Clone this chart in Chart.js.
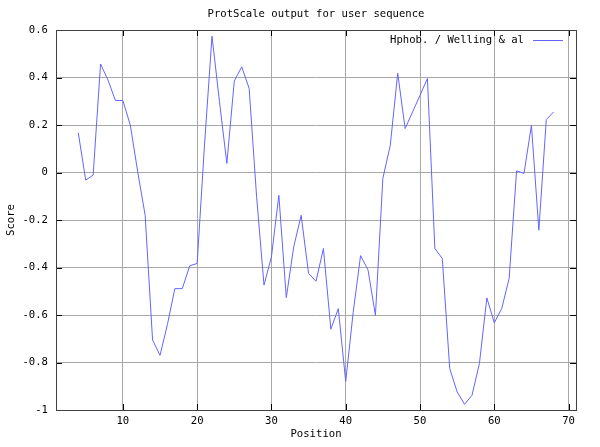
<!DOCTYPE html>
<html>
<head>
<meta charset="utf-8">
<script src="https://cdn.jsdelivr.net/npm/chart.js@4"></script>
<style>
body{margin:0;background:#fff;}
canvas{display:block;}
</style>
</head>
<body>
<canvas id="chart" width="600" height="447"></canvas>
<script>
// data
const positions = [4,5,6,7,8,9,10,11,12,13,14,15,16,17,18,19,20,21,22,23,24,25,26,27,28,29,30,31,32,33,34,35,36,
    37,38,39,40,41,42,43,44,45,46,47,48,49,50,51,52,53,54,55,56,57,58,59,60,61,62,63,64,65,66,67,68];
const scores = [0.167,-0.032,-0.011,0.457,0.389,0.303,0.303,0.200,0.003,-0.180,-0.705,-0.770,-0.640,-0.489,-0.489,-0.393,-0.383,
    0.120,0.574,0.300,0.038,0.385,0.445,0.354,-0.100,-0.474,-0.355,-0.096,-0.527,-0.313,-0.180,-0.425,-0.458,
    -0.320,-0.660,-0.573,-0.880,-0.590,-0.350,-0.410,-0.601,-0.025,0.115,0.418,0.185,0.255,0.325,0.396,-0.320,
    -0.362,-0.825,-0.924,-0.976,-0.938,-0.804,-0.528,-0.633,-0.573,-0.446,0.007,-0.004,0.199,-0.243,0.223,0.255];
const xTicks = [10,20,30,40,50,60,70];
const yTicks = [-1,-0.8,-0.6,-0.4,-0.2,0,0.2,0.4,0.6];
const seriesLabel = 'Hphob. / Welling & al';
const chartTitle = 'ProtScale output for user sequence';

const FONT = {family:'"DejaVu Sans Mono", monospace', size:10.6};
const lineColor = '#6464ff';

// gnuplot style: box border, inward ticks on all sides, title over plot, key inside top right
const gnuplotFrame = {
    id:'gnuplotFrame',
    afterDatasetsDraw(chart){
        const {ctx, chartArea:a, scales} = chart;
        ctx.save();
        ctx.strokeStyle = '#000';
        ctx.lineWidth = 1;
        ctx.beginPath();
        xTicks.forEach(v=>{
            const px = Math.round(scales.x.getPixelForValue(v))+0.5;
            ctx.moveTo(px,a.bottom); ctx.lineTo(px,a.bottom-6);
            ctx.moveTo(px,a.top); ctx.lineTo(px,a.top+6);
        });
        yTicks.forEach(v=>{
            const py = Math.round(scales.y.getPixelForValue(v))+0.5;
            ctx.moveTo(a.left,py); ctx.lineTo(a.left+6,py);
            ctx.moveTo(a.right,py); ctx.lineTo(a.right-6,py);
        });
        ctx.stroke();
        ctx.strokeStyle = '#404040';
        ctx.strokeRect(Math.round(a.left)+0.5, Math.round(a.top)+0.5, Math.round(a.right-a.left), Math.round(a.bottom-a.top));

        ctx.fillStyle = '#000';
        ctx.font = `${FONT.size}px ${FONT.family}`;
        ctx.textBaseline = 'middle';
        ctx.textAlign = 'center';
        ctx.fillText(chartTitle, (a.left+a.right)/2, 14);

        // key
        const ky = a.top+10;
        ctx.textAlign = 'right';
        ctx.fillText(chart.data.datasets[0].label, a.right-52, ky);
        ctx.strokeStyle = lineColor;
        ctx.beginPath();
        ctx.moveTo(a.right-43, ky+0.5); ctx.lineTo(a.right-13, ky+0.5);
        ctx.stroke();
        ctx.restore();
    }
};

new Chart(document.getElementById('chart'), {
    type:'line',
    data:{
        datasets:[{
            label:seriesLabel,
            data:positions.map((p,i)=>({x:p, y:scores[i]})),
            borderColor:lineColor,
            borderWidth:1,
            pointRadius:0,
            tension:0,
            fill:false
        }]
    },
    options:{
        responsive:false,
        devicePixelRatio:1,
        animation:false,
        layout:{padding:{left:0, right:24, top:30, bottom:0}},
        plugins:{
            legend:{display:false},
            tooltip:{enabled:false},
            title:{display:false}
        },
        scales:{
            x:{
                type:'linear', min:1, max:71,
                afterBuildTicks:s=>{ s.ticks = xTicks.map(v=>({value:v})); },
                afterFit:s=>{ s.height = 37; },
                ticks:{color:'#000', font:FONT, padding:5, maxRotation:0, autoSkip:false},
                grid:{color:'#a8a8a8', drawTicks:false},
                border:{color:'#404040'},
                title:{display:true, text:'Position', color:'#000', font:FONT, padding:{top:0, bottom:6}}
            },
            y:{
                type:'linear', min:-1, max:0.6,
                afterBuildTicks:s=>{ s.ticks = yTicks.map(v=>({value:v})); },
                afterFit:s=>{ s.width = 56; },
                ticks:{color:'#000', font:FONT, padding:8, callback:v=>String(+v.toFixed(1))},
                grid:{color:'#a8a8a8', drawTicks:false},
                border:{color:'#404040'},
                title:{display:true, text:'Score', color:'#000', font:FONT, padding:{top:5, bottom:0}}
            }
        }
    },
    plugins:[gnuplotFrame]
});
</script>
</body>
</html>
